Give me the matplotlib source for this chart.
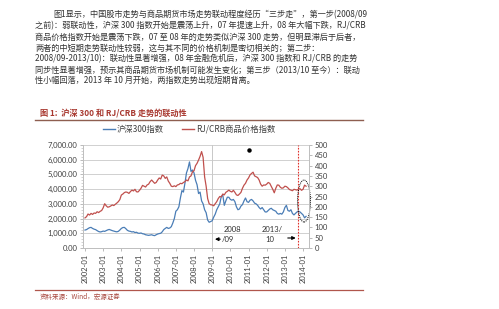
import numpy as np
import matplotlib.pyplot as plt
from matplotlib.patches import Ellipse
from matplotlib.lines import Line2D

# 数据：月度，2002-01 至 2014-03
start_year = 2002
hs300 = [
    1220, 1250, 1320, 1380, 1400, 1330, 1280, 1250, 1180, 1120, 1090, 1110,  # 2002
    1150, 1130, 1180, 1230, 1260, 1220, 1180, 1150, 1120, 1100, 1130, 1220,  # 2003
    1330, 1390, 1400, 1310, 1200, 1150, 1130, 1090, 1110, 1050, 1070, 1010,  # 2004
    1000, 1020, 970, 950, 900, 880, 860, 880, 900, 860, 840, 900,            # 2005
    950, 980, 1000, 1100, 1250, 1330, 1400, 1330, 1360, 1450, 1700, 2000,    # 2006
    2500, 2600, 2800, 3400, 3900, 3800, 4400, 5100, 5400, 5850, 5200, 5300,  # 2007
    5100, 4600, 4300, 3700, 3800, 3200, 3000, 2600, 2400, 1900, 1750, 1800,  # 2008
    1850, 2100, 2300, 2600, 2800, 3000, 3500, 3600, 2900, 3200, 3450, 3450,  # 2009
    3300, 3250, 3300, 3150, 2800, 2600, 2650, 2850, 2950, 3200, 3400, 3150,  # 2010
    3100, 3250, 3300, 3200, 3050, 3000, 2900, 2750, 2650, 2750, 2600, 2450,  # 2011
    2450, 2550, 2650, 2700, 2600, 2550, 2500, 2350, 2300, 2350, 2300, 2450,  # 2012
    2750, 2900, 2550, 2500, 2600, 2350, 2250, 2350, 2450, 2500, 2450, 2350,  # 2013
    2250, 2050, 2150,                                                        # 2014
]
crb = [
    146, 152, 165, 160, 168, 163, 170, 168, 176, 172, 178, 182,
    195, 215, 205, 198, 200, 204, 209, 206, 212, 218, 225, 235,
    257, 262, 269, 272, 270, 265, 274, 281, 277, 285, 273, 272,
    280, 290, 304, 300, 296, 306, 310, 322, 330, 322, 314, 318,
    330, 340, 335, 354, 350, 338, 345, 325, 314, 300, 298, 302,
    298, 306, 308, 314, 312, 318, 322, 330, 326, 345, 350, 370,
    375, 400, 411, 427, 445, 468, 440, 345, 300, 240, 215, 210,
    209, 205, 215, 225, 240, 250, 248, 262, 258, 270, 275, 281,
    275, 272, 280, 270, 258, 255, 262, 270, 290, 305, 314, 330,
    340, 355, 362, 368, 350, 346, 342, 330, 310, 300, 306, 305,
    310, 318, 314, 300, 285, 268, 290, 306, 305, 295, 290, 292,
    300, 298, 292, 284, 281, 278, 285, 283, 281, 286, 288, 280,
    285, 305, 300,
]
tick_years = list(range(2002, 2015))
tick_labels = [f"{y}-01" for y in tick_years]
left_ticks = list(range(0, 7001, 1000))
right_ticks = list(range(0, 501, 50))

body_lines = [
    "图1显示，中国股市走势与商品期货市场走势联动程度经历“三步走”，第一步(2008/09",
    "之前)：弱联动性，沪深 300 指数开始是震荡上升，07 年提速上升，08 年大幅下跌，RJ/CRB",
    "商品价格指数开始是震荡下跌，07 至 08 年的走势类似沪深 300 走势，但明显滞后于后者，",
    "两者的中短期走势联动性较弱，这与其不同的价格机制是密切相关的；第二步：",
    "2008/09-2013/10)：联动性显著增强，08 年金融危机后，沪深 300 指数和 RJ/CRB 的走势",
    "同步性显著增强，预示其商品期货市场机制可能发生变化；第三步（2013/10 至今）：联动",
    "性小幅回落，2013 年 10 月开始，两指数走势出现短期背离。",
]

plt.rcParams['font.family'] = ['Noto Sans CJK SC', 'DejaVu Sans']

W, H = 499, 309
fig = plt.figure(figsize=(W / 100, H / 100), dpi=100)
fig.patch.set_facecolor('white')


def fx(x):
    return x / W


def fy(y):
    return 1 - y / H


# 正文
for i, line in enumerate(body_lines):
    x0 = 53 if i == 0 else 35
    fig.text(fx(x0), fy(15 + i * 10.95), line, fontsize=5.9, color='#333333',
             va='center', ha='left')

# 图标题与分隔线
fig.text(fx(40), fy(113), "图 1:  沪深 300 和 RJ/CRB 走势的联动性", fontsize=5.9,
         color='#A8382F', fontweight='bold', va='center', ha='left')
fig.add_artist(Line2D([fx(35), fx(363)], [fy(120), fy(120)], color='#8E5E50', lw=1.0))
fig.add_artist(Line2D([fx(35), fx(363)], [fy(290), fy(290)], color='#B0564C', lw=0.9))
fig.text(fx(40), fy(297), "资料来源：Wind，宏源证券", fontsize=4.7, color='#A8483F',
         style='italic', va='center', ha='left')

blue = '#4A7DB6'
red = '#C0504D'

# 图例
fig.add_artist(Line2D([fx(103), fx(115)], [fy(129), fy(129)], color=blue, lw=1.0))
fig.text(fx(117), fy(129), "沪深300指数", fontsize=6, color='#404040', va='center')
fig.add_artist(Line2D([fx(182), fx(194)], [fy(129), fy(129)], color=red, lw=1.0))
fig.text(fx(196), fy(129), "RJ/CRB商品价格指数", fontsize=6, color='#404040', va='center')

# 坐标轴
ax = fig.add_axes([fx(83), fy(248), (309 - 83) / W, (248 - 145) / H])
ax2 = ax.twinx()

t = start_year + np.arange(len(hs300)) / 12.0
ax.plot(t, hs300, color=blue, lw=0.9, zorder=3)
ax2.plot(t, crb, color=red, lw=0.9, zorder=3)

ax.set_xlim(2002 - 2 / 18.17, 2002 + (309 - 85) / 18.17)
ax.set_ylim(0, 7000)
ax2.set_ylim(0, 500)

num_font = dict(family='Lato', size=5.5)
ax.set_yticks(left_ticks)
ax.set_yticklabels([f"{v:,.2f}" for v in left_ticks], fontdict=num_font, color='#404040')
ax.set_yticks(range(0, 7001, 200), minor=True)
ax2.set_yticks(right_ticks)
ax2.set_yticklabels([str(v) for v in right_ticks], fontdict=num_font, color='#404040')
ax.set_xticks(tick_years)
ax.set_xticklabels(tick_labels, rotation=90, fontdict=num_font, color='#404040')

ax.grid(axis='y', color='#D0D0D0', lw=0.7)
ax.set_axisbelow(True)
for a in (ax, ax2):
    for s in a.spines.values():
        s.set_color('#BFBFBF')
        s.set_linewidth(0.7)
    a.spines['top'].set_visible(False)
ax.tick_params(axis='y', length=2, width=0.5, color='#A0A0A0', pad=2)
ax.tick_params(axis='y', which='minor', length=1.2, width=0.4, color='#B0B0B0')
ax.tick_params(axis='x', length=2, width=0.5, color='#A0A0A0', pad=2)
ax2.tick_params(axis='y', length=2, width=0.5, color='#A0A0A0', pad=2)

# 2009-01 灰色竖线 与 2013-10 红色虚线
ax.axvline(2009.0, color='#C8C8C8', lw=0.7, zorder=1)
ax.axvline(2013 + 9 / 12, color='#E0302A', lw=0.8, ls=(0, (1.5, 1.2)), zorder=4)

# 标注
ann = dict(family='Lato', size=5.5, color='#303030')
ax.text(2002 + (232 - 85) / 18.17, 1290, "2008", ha='center', va='center', **ann)
ax.text(2002 + (222 - 85) / 18.17, 560, "/09", ha='left', va='center', **ann)
ax.annotate("", xy=(2009.0, 600), xytext=(2002 + (223 - 85) / 18.17, 600),
            arrowprops=dict(arrowstyle='-|>', color='black', lw=0.8, mutation_scale=5))
ax.text(2002 + (262 - 85) / 18.17, 1290, "2013/", ha='left', va='center', **ann)
ax.text(2002 + (265 - 85) / 18.17, 580, "10", ha='left', va='center', **ann)
ax.annotate("", xy=(2013 + 9 / 12, 680), xytext=(2002 + (285 - 85) / 18.17, 680),
            arrowprops=dict(arrowstyle='-|>', color='black', lw=0.8, mutation_scale=5))

# 黑点和虚线椭圆
ax.plot([(249 - 83) / 226], [(248 - 150) / 103], 'o', color='black', ms=2.2,
        transform=ax.transAxes, clip_on=False, zorder=5)
ax.add_patch(Ellipse(((304 - 83) / 226, (248 - 201) / 103), 13 / 226, 42 / 103,
                     transform=ax.transAxes, fill=False, ec='black', lw=0.7,
                     ls=(0, (1, 1)), clip_on=False, zorder=6))

fig.savefig('out.png', dpi=100)
